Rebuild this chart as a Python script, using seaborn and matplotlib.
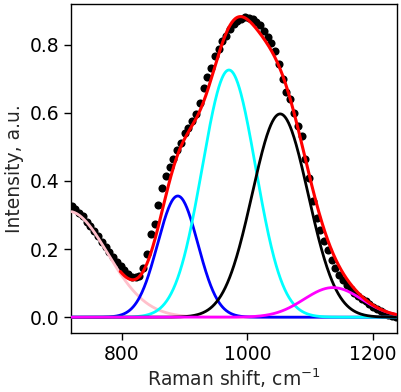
import numpy as np
import pandas as pd
import matplotlib
matplotlib.use("Agg")
import matplotlib.pyplot as plt
import seaborn as sns

# measured spectrum (dots)
shift = [720, 726, 732, 738, 744, 750, 756, 762, 768, 774, 780, 786, 792, 798,
         804, 810, 816, 822, 828, 834, 840, 846, 852, 858, 864, 870, 876, 882,
         888, 894, 900, 906, 912, 918, 924, 930, 936, 942, 948, 954, 960, 966,
         972, 978, 984, 990, 996, 1002, 1008, 1014, 1020, 1026, 1032, 1038,
         1044, 1050, 1056, 1062, 1068, 1074, 1080, 1086, 1092, 1098, 1104,
         1110, 1116, 1122, 1128, 1134, 1140, 1146, 1152, 1158, 1164, 1170,
         1176, 1182, 1188, 1194, 1200, 1206, 1212, 1218, 1224, 1230, 1236]
intensity = [0.328, 0.318, 0.307, 0.296, 0.281, 0.268, 0.253, 0.238, 0.222,
             0.207, 0.192, 0.177, 0.163, 0.150, 0.139, 0.127, 0.119, 0.117,
             0.122, 0.145, 0.185, 0.245, 0.275, 0.330, 0.378, 0.415, 0.440,
             0.465, 0.490, 0.512, 0.540, 0.556, 0.577, 0.598, 0.630, 0.672,
             0.704, 0.733, 0.768, 0.787, 0.810, 0.827, 0.845, 0.860, 0.869,
             0.876, 0.881, 0.879, 0.875, 0.868, 0.858, 0.840, 0.822, 0.805,
             0.783, 0.745, 0.700, 0.660, 0.640, 0.600, 0.562, 0.532, 0.466,
             0.410, 0.340, 0.292, 0.255, 0.225, 0.198, 0.168, 0.145, 0.125,
             0.110, 0.096, 0.082, 0.071, 0.061, 0.054, 0.047, 0.038, 0.030,
             0.024, 0.018, 0.012, 0.007, 0.003, 0.000]

# fitted gaussian components: baseline, then four bands
comp_names = ["base", "b1", "b2", "b3", "b4"]
comp_center = [715, 889, 970.5, 1052, 1136]
comp_height = [0.311, 0.356, 0.726, 0.597, 0.087]
comp_sigma = [62, 32, 42.5, 44.5, 46]
comp_color = ["pink", "blue", "cyan", "black", "magenta"]
fit_start = 797

sns.set_style("ticks")
plt.rcParams["font.family"] = ["DejaVu Sans"]
plt.rcParams["axes.edgecolor"] = "black"
plt.rcParams["xtick.color"] = "black"
plt.rcParams["ytick.color"] = "black"

xx = np.linspace(720, 1236, 600)
curves = {}
for n, c, h, s in zip(comp_names, comp_center, comp_height, comp_sigma):
    curves[n] = h * np.exp(-(xx - c) ** 2 / (2 * s ** 2))
total = sum(curves.values())

fig, ax = plt.subplots(figsize=(4.01, 3.92), dpi=100)
fig.subplots_adjust(left=0.177, right=0.99, top=0.99, bottom=0.15)

dots = pd.DataFrame({"shift": shift, "intensity": intensity})
sns.scatterplot(data=dots, x="shift", y="intensity", color="black", s=34,
                edgecolor="black", linewidth=0, ax=ax, zorder=2)

for n, col in zip(comp_names, comp_color):
    sns.lineplot(x=xx, y=curves[n], color=col, linewidth=2, ax=ax, zorder=3)

m = xx >= fit_start
sns.lineplot(x=xx[m], y=total[m], color="red", linewidth=2.2, ax=ax, zorder=4)

ax.set_xlim(719, 1238)
ax.set_ylim(-0.047, 0.92)
ax.set_xticks([800, 1000, 1200])
ax.set_yticks([0.0, 0.2, 0.4, 0.6, 0.8])
ax.tick_params(labelsize=13.5, length=5, width=1)
ax.set_xlabel("Raman shift, cm$^{-1}$", fontsize=13.5, labelpad=2)
ax.set_ylabel("Intensity, a.u.", fontsize=13.5, labelpad=4)
for sp in ax.spines.values():
    sp.set_linewidth(1)

fig.savefig("out.png", dpi=100)
